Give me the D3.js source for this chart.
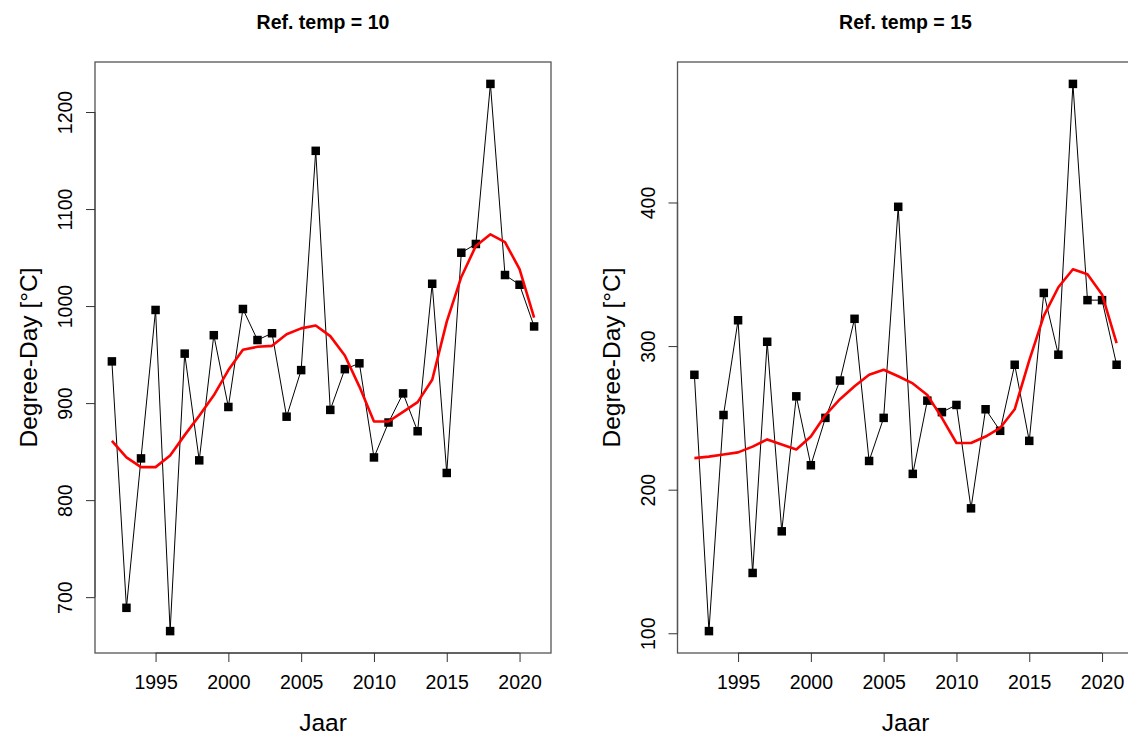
<!DOCTYPE html>
<html>
<head>
<meta charset="utf-8">
<script src="https://cdn.jsdelivr.net/npm/d3@7"></script>
<style>
  html, body { margin: 0; padding: 0; background: #fff; }
  svg { display: block; font-family: "Liberation Sans", Arial, sans-serif; }
</style>
</head>
<body>
<svg id="chart" width="1128" height="735"></svg>
<script>
// ---- data ----
const years = d3.range(1992, 2022);
const titles = ["Ref. temp = 10", "Ref. temp = 15"];
const xLabel = "Jaar";
const yLabel = "Degree-Day [°C]";
const xTicks = [1995, 2000, 2005, 2010, 2015, 2020];
const yTicks10 = [700, 800, 900, 1000, 1100, 1200];
const yTicks15 = [100, 200, 300, 400];

const dd10 = [943, 689, 843, 996, 665, 951, 841, 970, 896, 997, 965, 972, 886, 934,
              1160, 893, 935, 941, 844, 880, 910, 871, 1023, 828, 1055, 1064, 1229, 1032, 1022, 979];
const smooth10 = [861, 844, 834, 834, 846, 867, 887, 908, 934, 955, 958, 959, 971, 977,
                  980, 969, 949, 917, 881, 881, 891, 901, 924, 984, 1030, 1062, 1074, 1066, 1038, 988];

const dd15 = [280, 101.5, 252, 318, 142, 303, 171, 265, 217, 250, 276, 319, 220, 250,
              397, 211, 262, 254, 259, 187, 256, 241, 287, 234, 337, 294, 482.6, 332, 332, 287];
const smooth15 = [222, 223, 224.5, 226, 230, 235, 231.5, 228, 237, 252, 263, 272, 280, 283.5,
                  279, 274, 266, 250, 232.5, 232.5, 237, 243, 256, 290, 321, 341, 353.5, 350, 336, 302];

const panels = [
  { title: titles[0], values: dd10, smooth: smooth10, yTicks: yTicks10, x0: 95, x1: 551 },
  { title: titles[1], values: dd15, smooth: smooth15, yTicks: yTicks15, x0: 677.5, x1: 1133.5 }
];

const svg = d3.select("#chart");
const plotTop = 62, plotBottom = 653;
const tickFont = "19.5px", labFont = "24.5px";

panels.forEach(p => {
  // R-style 4% padding
  const xe = d3.extent(years), xp = (xe[1] - xe[0]) * 0.04;
  const ye = d3.extent(p.values), yp = (ye[1] - ye[0]) * 0.04;
  const x = d3.scaleLinear().domain([xe[0] - xp, xe[1] + xp]).range([p.x0, p.x1]);
  const y = d3.scaleLinear().domain([ye[0] - yp, ye[1] + yp]).range([plotBottom, plotTop]);

  const g = svg.append("g");

  // box
  g.append("rect")
    .attr("x", p.x0).attr("y", plotTop)
    .attr("width", p.x1 - p.x0).attr("height", plotBottom - plotTop)
    .attr("fill", "none").attr("stroke", "#555").attr("stroke-width", 1.3);

  // x axis
  const xAxis = g.append("g").attr("transform", `translate(0,${plotBottom})`)
    .call(d3.axisBottom(x).tickValues(xTicks).tickFormat(d3.format("d")).tickSizeOuter(0).tickSizeInner(9).tickPadding(10));
  xAxis.select(".domain").attr("stroke", "#555").attr("stroke-width", 1.3)
    .attr("d", `M${x(xTicks[0])},0H${x(xTicks[xTicks.length - 1])}`);
  xAxis.selectAll(".tick line").attr("stroke", "#333");
  xAxis.selectAll(".tick text").attr("font-size", tickFont).attr("fill", "#000")
    .attr("font-family", "Liberation Sans, Arial, sans-serif").attr("dy", null).attr("y", 36);

  // y axis
  const yAxis = g.append("g").attr("transform", `translate(${p.x0},0)`)
    .call(d3.axisLeft(y).tickValues(p.yTicks).tickFormat(d3.format("d")).tickSizeOuter(0).tickSizeInner(9));
  yAxis.select(".domain").attr("stroke", "#555").attr("stroke-width", 1.3)
    .attr("d", `M0,${y(p.yTicks[0])}V${y(p.yTicks[p.yTicks.length - 1])}`);
  yAxis.selectAll(".tick line").attr("stroke", "#333");
  yAxis.selectAll(".tick text")
    .attr("font-size", tickFont).attr("fill", "#000")
    .attr("font-family", "Liberation Sans, Arial, sans-serif")
    .attr("x", null).attr("dy", null)
    .attr("text-anchor", "middle")
    .attr("transform", "translate(-23,0) rotate(-90)");

  // data line
  g.append("path").datum(p.values)
    .attr("fill", "none").attr("stroke", "#000").attr("stroke-width", 1)
    .attr("d", d3.line().x((d, i) => x(years[i])).y(d => y(d)));

  // squares
  const s = 8.5;
  g.selectAll("rect.pt").data(p.values).join("rect")
    .attr("class", "pt")
    .attr("x", (d, i) => x(years[i]) - s / 2)
    .attr("y", d => y(d) - s / 2)
    .attr("width", s).attr("height", s)
    .attr("fill", "#000");

  // smoothed line
  g.append("path").datum(p.smooth)
    .attr("fill", "none").attr("stroke", "#ff0000").attr("stroke-width", 2.6)
    .attr("stroke-linejoin", "round")
    .attr("d", d3.line().x((d, i) => x(years[i])).y(d => y(d)));

  const cx = (p.x0 + p.x1) / 2;
  // title
  g.append("text").attr("x", cx).attr("y", 29)
    .attr("text-anchor", "middle").attr("font-weight", "bold")
    .attr("font-size", "19.5px").text(p.title);
  // x label
  g.append("text").attr("x", cx).attr("y", 731)
    .attr("text-anchor", "middle").attr("font-size", labFont).text(xLabel);
  // y label
  g.append("text")
    .attr("transform", `translate(${p.x0 - 58},${(plotTop + plotBottom) / 2}) rotate(-90)`)
    .attr("text-anchor", "middle").attr("font-size", labFont).text(yLabel);
});
</script>
</body>
</html>
